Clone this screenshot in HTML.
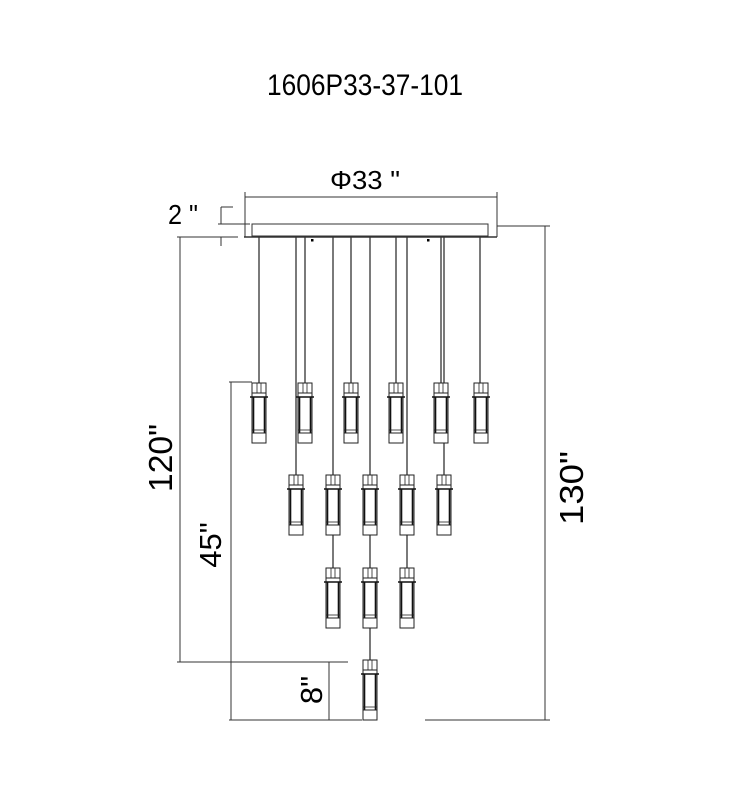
<!DOCTYPE html>
<html><head><meta charset="utf-8"><style>
html,body{margin:0;padding:0;background:#fff;}
svg{display:block;}
text{font-family:"Liberation Sans",sans-serif;fill:#000;}
</style></head><body>
<svg width="730" height="800" viewBox="0 0 730 800" xmlns="http://www.w3.org/2000/svg">
<defs>
<g id="p">
  <rect x="-7" y="0" width="14" height="10" fill="#fff" stroke="#222" stroke-width="1"/>
  <line x1="-2" y1="0" x2="-2" y2="10" stroke="#222" stroke-width="0.8"/>
  <line x1="2" y1="0" x2="2" y2="10" stroke="#222" stroke-width="0.8"/>
  <rect x="-7" y="10" width="14" height="50" fill="#fff" stroke="#222" stroke-width="1"/>
  <line x1="-9" y1="14" x2="9" y2="14" stroke="#111" stroke-width="1.6"/>
  <line x1="-5.5" y1="14" x2="-5.5" y2="50" stroke="#111" stroke-width="1.6"/>
  <line x1="5.5" y1="14" x2="5.5" y2="50" stroke="#111" stroke-width="1.6"/>
  <line x1="-7" y1="47" x2="7" y2="47" stroke="#222" stroke-width="0.8"/>
  <line x1="-7" y1="50" x2="7" y2="50" stroke="#222" stroke-width="1"/>
</g>
</defs>

<text x="267" y="95" font-size="30" textLength="196" lengthAdjust="spacingAndGlyphs">1606P33-37-101</text>
<text x="330" y="189" font-size="26" textLength="70" lengthAdjust="spacingAndGlyphs">Φ33 "</text>
<text x="168" y="224" font-size="28" textLength="30" lengthAdjust="spacingAndGlyphs">2 "</text>

<g stroke="#333" stroke-width="1" fill="none">
  <line x1="245" y1="197" x2="497" y2="197"/>
  <line x1="245" y1="192" x2="245" y2="237"/>
  <line x1="497" y1="192" x2="497" y2="237"/>
  <rect x="252" y="224" width="236" height="12" fill="#fff"/>
  <line x1="244" y1="237" x2="497" y2="237" stroke-width="1.4"/>
  <line x1="218" y1="224" x2="250" y2="224"/>
  <line x1="177" y1="237" x2="238" y2="237"/>
  <line x1="221" y1="207" x2="221" y2="224"/>
  <line x1="221" y1="207" x2="233" y2="207"/>
  <line x1="221" y1="237" x2="221" y2="246"/>
  <line x1="180" y1="237" x2="180" y2="662"/>
  <line x1="177" y1="662" x2="348" y2="662"/>
  <line x1="231" y1="382" x2="231" y2="720"/>
  <line x1="229" y1="382" x2="252" y2="382"/>
  <line x1="329" y1="662" x2="329" y2="720"/>
  <line x1="229" y1="720" x2="362" y2="720"/>
  <line x1="545" y1="226" x2="545" y2="720"/>
  <line x1="497" y1="226" x2="550" y2="226"/>
  <line x1="425" y1="720" x2="550" y2="720"/>
</g>

<g stroke="#333" stroke-width="1.3">
  <line x1="259" y1="237" x2="259" y2="383"/>
  <line x1="296" y1="237" x2="296" y2="475"/>
  <line x1="305" y1="237" x2="305" y2="383"/>
  <line x1="333" y1="237" x2="333" y2="568"/>
  <line x1="351" y1="237" x2="351" y2="383"/>
  <line x1="370" y1="237" x2="370" y2="660"/>
  <line x1="396" y1="237" x2="396" y2="383"/>
  <line x1="407" y1="237" x2="407" y2="568"/>
  <line x1="441" y1="237" x2="441" y2="383"/>
  <line x1="444" y1="237" x2="444" y2="475"/>
  <line x1="480" y1="237" x2="480" y2="383"/>
</g>
<rect x="311" y="239" width="2.5" height="2.5" fill="#000"/>
<rect x="427" y="239" width="2.5" height="2.5" fill="#000"/>

<use href="#p" x="259" y="383"/>
<use href="#p" x="305" y="383"/>
<use href="#p" x="351" y="383"/>
<use href="#p" x="396" y="383"/>
<use href="#p" x="441" y="383"/>
<use href="#p" x="481" y="383"/>
<use href="#p" x="296" y="475"/>
<use href="#p" x="333" y="475"/>
<use href="#p" x="370" y="475"/>
<use href="#p" x="407" y="475"/>
<use href="#p" x="444" y="475"/>
<use href="#p" x="333" y="568"/>
<use href="#p" x="370" y="568"/>
<use href="#p" x="407" y="568"/>
<use href="#p" x="370" y="660"/>

<text font-size="33" transform="translate(172,492) rotate(-90)" textLength="68" lengthAdjust="spacingAndGlyphs">120"</text>
<text font-size="31" text-anchor="middle" transform="translate(221,545) rotate(-90)">45"</text>
<text font-size="31" text-anchor="middle" transform="translate(322,690) rotate(-90)">8"</text>
<text font-size="33" transform="translate(583,525) rotate(-90)" textLength="74" lengthAdjust="spacingAndGlyphs">130"</text>
</svg>
</body></html>
